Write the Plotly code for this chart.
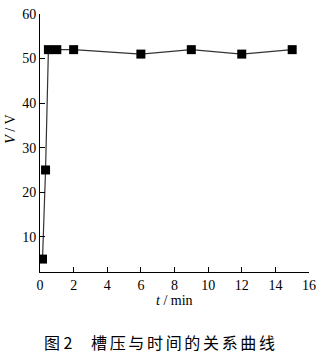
import plotly.graph_objects as go

# Cell voltage vs. electrolysis time
time_min = [0.15, 0.33, 0.5, 1, 2, 6, 9, 12, 15]
voltage_v = [5, 25, 52, 52, 52, 51, 52, 51, 52]

x_ticks = [0, 2, 4, 6, 8, 10, 12, 14, 16]
y_ticks = [10, 20, 30, 40, 50, 60]

serif = "Liberation Serif, Times New Roman, serif"
cjk = "Noto Sans CJK SC"
gap = "\u2006"

fig = go.Figure()
fig.add_trace(go.Scatter(
    x=time_min, y=voltage_v, mode="lines+markers",
    line=dict(color="#333333", width=1.2),
    marker=dict(symbol="square", size=9, color="black"),
    showlegend=False,
))

axis_common = dict(
    showgrid=False, zeroline=False, showline=True, linecolor="black", linewidth=1,
    ticks="inside", ticklen=5, tickcolor="black", tickwidth=1,
    tickfont=dict(family=serif, size=14, color="black"), mirror=False,
)

fig.update_xaxes(range=[0, 16], tickvals=x_ticks, **axis_common)
fig.update_yaxes(range=[2.1, 60], tickvals=y_ticks, **axis_common)

caption_tail = gap.join("槽压与时间的关系曲线")

fig.update_layout(
    width=323, height=357,
    margin=dict(l=40, r=7, t=8, b=85),
    plot_bgcolor="white", paper_bgcolor="white",
    font=dict(family=serif, color="black"),
    annotations=[
        dict(text="<i>t</i> / min", x=0.5, y=-0.075, xref="paper", yref="paper",
             xanchor="center", yanchor="top", showarrow=False,
             font=dict(family=serif, size=14, color="black")),
        dict(text="<i>V</i> / V", x=-0.11, y=0.553, xref="paper", yref="paper",
             xanchor="center", yanchor="middle", textangle=-90, showarrow=False,
             font=dict(family=serif, size=14, color="black")),
        dict(text="图 2", x=0.007, y=-0.273, xref="paper", yref="paper",
             xanchor="left", yanchor="middle", showarrow=False,
             font=dict(family=cjk, size=16, color="black")),
        dict(text=caption_tail, x=0.181, y=-0.273, xref="paper", yref="paper",
             xanchor="left", yanchor="middle", showarrow=False,
             font=dict(family=cjk, size=16, color="black")),
    ],
)

fig.write_html("out.html")
